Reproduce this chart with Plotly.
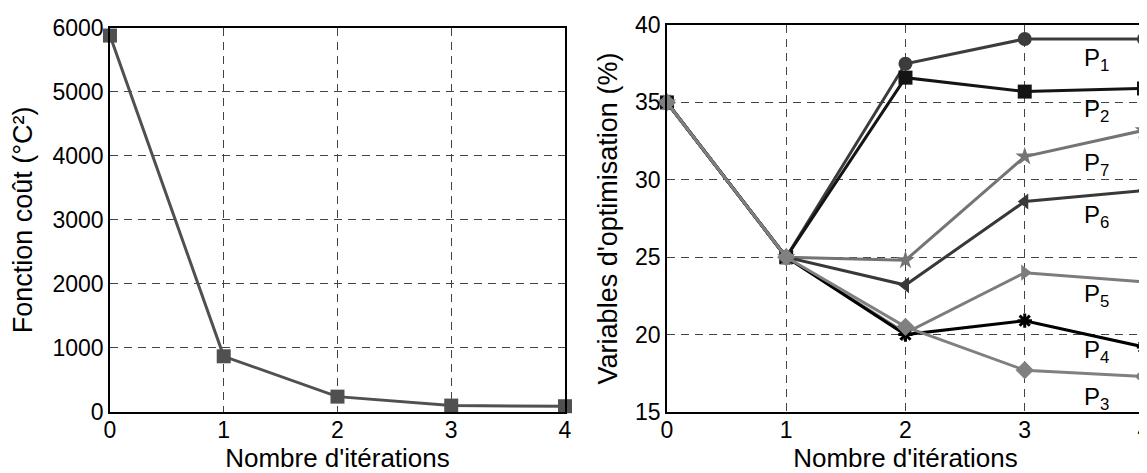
import plotly.graph_objects as go

# iterations and values
iterations = [0, 1, 2, 3, 4]
cost = [5880, 870, 240, 100, 90]

p1 = [35, 25, 37.5, 39.1, 39.1]
p2 = [35, 25, 36.6, 35.7, 35.9]
p7 = [35, 25, 24.8, 31.5, 33.2]
p6 = [35, 25, 23.2, 28.6, 29.3]
p5 = [35, 25, 20.1, 24.0, 23.4]
p4 = [35, 25, 20.0, 20.9, 19.2]
p3 = [35, 25, 20.5, 17.7, 17.3]

series = [
    ("P<sub>1</sub>", p1, "#3c3c3c", "circle", 37.8),
    ("P<sub>2</sub>", p2, "#141414", "square", 34.5),
    ("P<sub>7</sub>", p7, "#747474", "star", 31.0),
    ("P<sub>6</sub>", p6, "#383838", "triangle-left", 27.6),
    ("P<sub>5</sub>", p5, "#7c7c7c", "triangle-right", 22.5),
    ("P<sub>4</sub>", p4, "#000000", "asterisk-open", 18.9),
    ("P<sub>3</sub>", p3, "#808080", "diamond", 15.9),
]

font = "Liberation Sans, Arial, sans-serif"

fig = go.Figure()

fig.add_trace(go.Scatter(
    x=iterations, y=cost, mode="lines+markers",
    line=dict(color="#505050", width=3),
    marker=dict(symbol="square", size=14, color="#505050"),
    cliponaxis=False, xaxis="x", yaxis="y", showlegend=False))

for name, vals, col, sym, ly in series:
    mk = dict(symbol=sym, size=14, color=col)
    if sym == "asterisk-open":
        mk = dict(symbol=sym, size=12, color=col, line=dict(color=col, width=3))
    fig.add_trace(go.Scatter(
        x=iterations, y=vals, mode="lines+markers",
        line=dict(color=col, width=3), marker=mk,
        cliponaxis=False, xaxis="x2", yaxis="y2", showlegend=False))
    fig.add_annotation(x=3.6, y=ly, xref="x2", yref="y2", text=name,
                       showarrow=False, font=dict(size=24, color="black", family=font))

axis_common = dict(
    showline=True, mirror=True, linecolor="black", linewidth=1.5,
    showgrid=True, gridcolor="#444444", griddash="8px,6px", gridwidth=1,
    zeroline=False, ticks="", automargin=False,
    tickfont=dict(size=23, color="black", family=font),
)

fig.update_layout(
    template="none",
    width=1147, height=473,
    margin=dict(l=0, r=0, t=0, b=0),
    plot_bgcolor="white", paper_bgcolor="white",
    font=dict(family=font, color="black"),
    xaxis=dict(axis_common, domain=[0.0889, 0.4856], range=[0, 4], dtick=1,
               ticklabelstandoff=-3,
               title=dict(text="Nombre d'itérations", font=dict(size=26), standoff=0)),
    yaxis=dict(axis_common, domain=[0.1459, 0.958], range=[0, 6000], dtick=1000,
               title=dict(text="Fonction coût (°C²)", font=dict(size=27), standoff=12)),
    xaxis2=dict(axis_common, domain=[0.5745, 0.9904], range=[0, 4], dtick=1,
                anchor="y2", ticklabelstandoff=-3,
                title=dict(text="Nombre d'itérations", font=dict(size=26), standoff=0)),
    yaxis2=dict(axis_common, domain=[0.1459, 0.964], range=[15, 40], dtick=5,
                anchor="x2",
                title=dict(text="Variables d'optimisation (%)", font=dict(size=27), standoff=10)),
)

fig.write_html("out.html")
